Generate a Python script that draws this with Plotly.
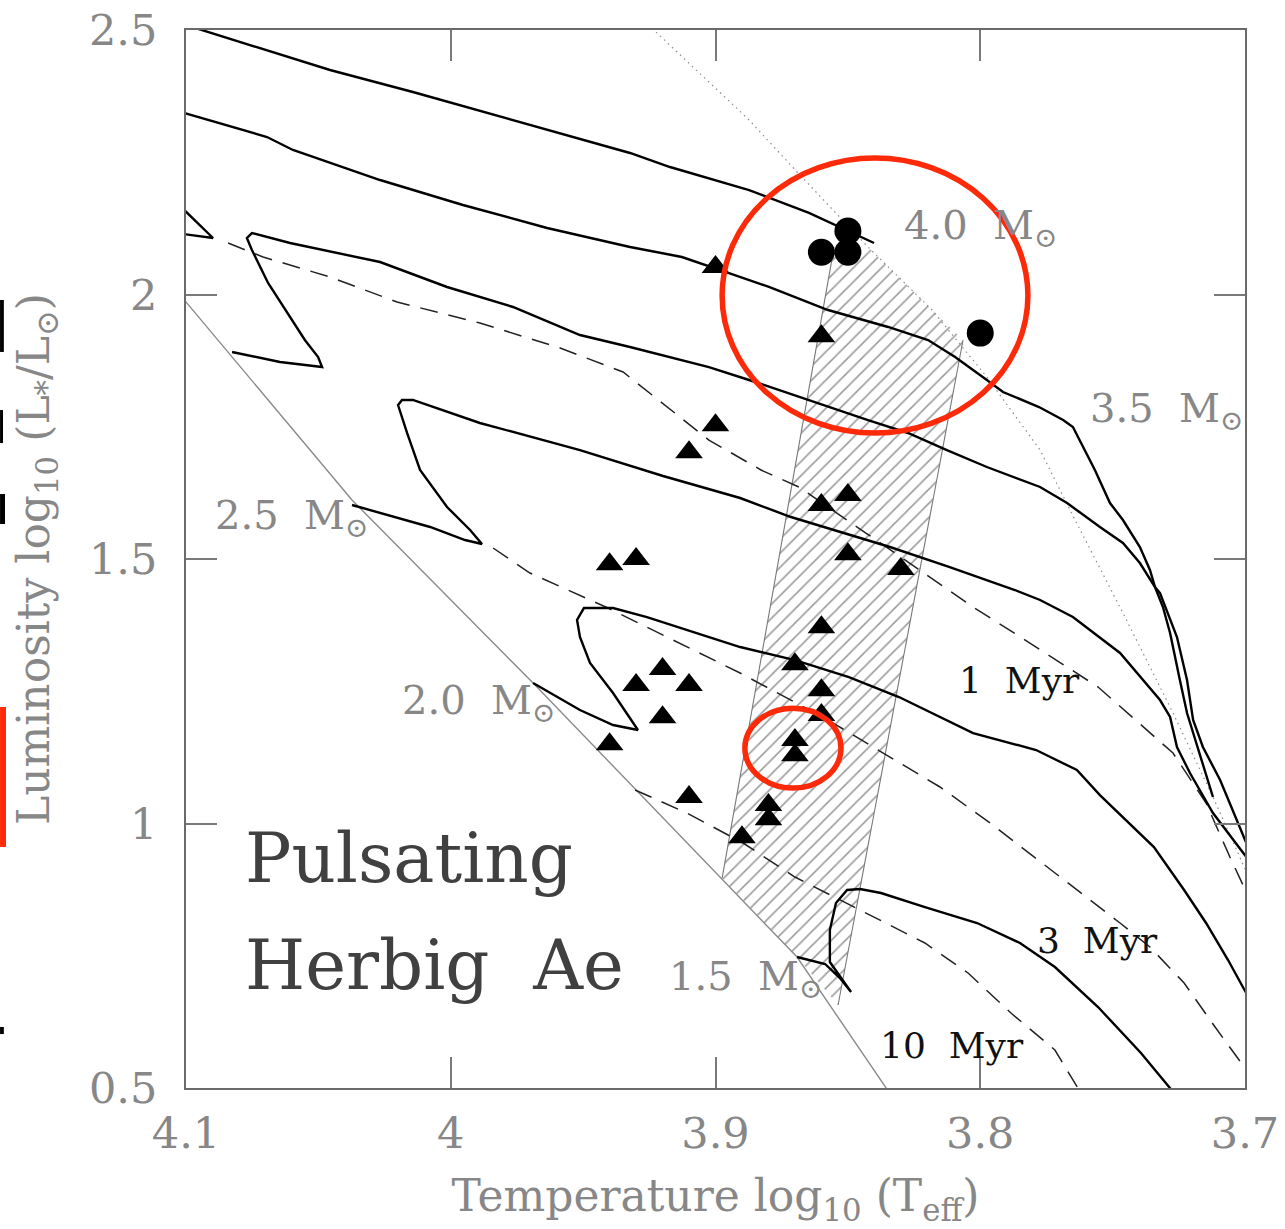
import plotly.graph_objects as go

# ---------------- PMS evolutionary tracks: log10(Teff), log10(L/Lsun) ----------------
trk40_t = [4.1098, 4.0456, 4.0143, 3.9765, 3.9323, 3.9172, 3.8873, 3.8647, 3.8401]
trk40_l = [2.5246, 2.4244, 2.3828, 2.3299, 2.2675, 2.2410, 2.1975, 2.1541, 2.0973]

trk35_t = [4.1098, 4.0694, 4.0596, 4.0267, 3.9954, 3.9636, 3.9323, 3.9127, 3.8949, 3.8798,
           3.8575, 3.8348, 3.8197, 3.8095, 3.7975, 3.7914, 3.7778, 3.7687, 3.7650, 3.7612,
           3.7567, 3.7510, 3.7461, 3.7397, 3.7359, 3.7340, 3.7321, 3.7257, 3.7219, 3.7196,
           3.7159, 3.7094, 3.6981]
trk35_l = [2.3563, 2.2977, 2.2732, 2.2164, 2.1692, 2.1257, 2.0898, 2.0709, 2.0406, 2.0142,
           1.9707, 1.9386, 1.9140, 1.8818, 1.8384, 1.8157, 1.7873, 1.7627, 1.7495, 1.7117,
           1.6682, 1.6058, 1.5737, 1.5227, 1.4792, 1.4470, 1.4357, 1.3525, 1.2712, 1.1956,
           1.1446, 1.0822, 0.9461]

trk30_t = [3.7121, 3.7181, 3.7219, 3.7246, 3.7283, 3.7310, 3.7340, 3.7397, 3.7461, 3.7548,
           3.7672, 3.7774, 3.7975, 3.8126, 3.8273, 3.8424, 3.8647, 3.8873, 3.9025, 3.9172,
           3.9323, 3.9512, 3.9765, 4.0014, 4.0267, 4.0607, 4.0751, 4.0770, 4.0751, 4.0690,
           4.0551, 4.0501, 4.0486, 4.0645, 4.0826]
trk30_l = [1.0501, 1.1446, 1.2089, 1.2712, 1.3601, 1.4092, 1.4470, 1.4924, 1.5302, 1.5605,
           1.6058, 1.6361, 1.6739, 1.7060, 1.7382, 1.7627, 1.8006, 1.8384, 1.8629, 1.8818,
           1.9007, 1.9234, 1.9764, 2.0142, 2.0614, 2.0973, 2.1162, 2.1068, 2.0841, 2.0217,
           1.9140, 1.8818, 1.8629, 1.8724, 1.8913]

hook_t = [4.1038, 4.0898, 4.1038]
hook_l = [2.1749, 2.1068, 2.1162]

trk25_t = [3.6981, 3.7121, 3.7208, 3.7257, 3.7283, 3.7321, 3.7472, 3.7650, 3.7774, 3.7869,
           3.8118, 3.8341, 3.8715, 3.8907, 3.9198, 3.9512, 3.9890, 4.0143, 4.0184, 4.0199,
           4.0165, 4.0116, 4.0014, 3.9927, 3.9882, 3.9946, 4.0078, 4.0373]
trk25_l = [0.9272, 1.0198, 1.0954, 1.1446, 1.2013, 1.2334, 1.3223, 1.3903, 1.4225, 1.4414,
           1.4849, 1.5227, 1.5794, 1.6153, 1.6569, 1.7060, 1.7571, 1.8006, 1.8006, 1.7911,
           1.7382, 1.6682, 1.5983, 1.5548, 1.5283, 1.5359, 1.5605, 1.6021]

trk20_t = [3.6981, 3.7064, 3.7147, 3.7230, 3.7344, 3.7476, 3.7548, 3.7635, 3.7789, 3.8027,
           3.8307, 3.8496, 3.8700, 3.8907, 3.9134, 3.9259, 3.9387, 3.9497, 3.9523, 3.9512,
           3.9474, 3.9387, 3.9293, 3.9387, 3.9512, 3.9689]
trk20_l = [0.6663, 0.7419, 0.8119, 0.8743, 0.9555, 1.0198, 1.0538, 1.1011, 1.1389, 1.1710,
           1.2391, 1.2769, 1.3090, 1.3336, 1.3695, 1.3903, 1.4073, 1.4073, 1.3847, 1.3525,
           1.3034, 1.2467, 1.1767, 1.1862, 1.2145, 1.2656]

trk15_t = [3.7246, 3.7393, 3.7555, 3.7718, 3.7850, 3.8012, 3.8209, 3.8375, 3.8454, 3.8503,
           3.8545, 3.8568, 3.8568, 3.8488, 3.8530, 3.8586, 3.8692]
trk15_l = [0.4773, 0.5661, 0.6531, 0.7287, 0.7741, 0.8119, 0.8421, 0.8686, 0.8761, 0.8743,
           0.8497, 0.7986, 0.7381, 0.6814, 0.7079, 0.7344, 0.7476]

# ---------------- isochrones (1, 3, 10 Myr) ----------------
iso1_t = [4.0841, 4.0709, 4.0456, 4.0203, 3.9890, 3.9587, 3.9349, 3.9025, 3.8828, 3.8685,
          3.8432, 3.8246, 3.8027, 3.7789, 3.7555, 3.7272, 3.7147, 3.7057, 3.6981]
iso1_l = [2.0973, 2.0709, 2.0331, 1.9858, 1.9461, 1.8989, 1.8535, 1.7249, 1.6682, 1.6361,
          1.5491, 1.4849, 1.4092, 1.3336, 1.2580, 1.1332, 1.0387, 0.9366, 0.8554]

iso3_t = [3.9840, 3.9701, 3.9406, 3.9134, 3.8907, 3.8575, 3.8341, 3.8152, 3.7963, 3.7718,
          3.7472, 3.7359, 3.7230, 3.7113, 3.6981]
iso3_l = [1.5208, 1.4735, 1.4073, 1.3412, 1.2845, 1.1956, 1.1257, 1.0690, 1.0009, 0.9064,
          0.8119, 0.7665, 0.6985, 0.6153, 0.5245]

iso10_t = [3.9304, 3.9108, 3.8896, 3.8700, 3.8454, 3.8209, 3.8046, 3.7884, 3.7718, 3.7604]
iso10_l = [1.0633, 1.0198, 0.9631, 0.8988, 0.8364, 0.7741, 0.7174, 0.6417, 0.5718, 0.4773]

# ---------------- ZAMS and birthline ----------------
zams_t = [4.1060, 4.0373, 3.9689, 3.8692, 3.8322]
zams_l = [2.0217, 1.6115, 1.2656, 0.7476, 0.4754]

birth_t = [3.9285, 3.8873, 3.8692, 3.8424, 3.8182, 3.7975, 3.7774, 3.7661, 3.7461, 3.7272,
           3.7121, 3.6981]
birth_l = [2.5246, 2.3299, 2.2316, 2.0898, 1.9707, 1.8440, 1.7060, 1.5926, 1.3979, 1.2089,
           1.0501, 0.8932]

# ---------------- instability strip (hatched) ----------------
strip_t = [3.8975, 3.8552, 3.8424, 3.8065, 3.8537, 3.8692, 3.8975]
strip_l = [0.8969, 2.0898, 2.0898, 1.9140, 0.6569, 0.7476, 0.8969]

# ---------------- stars ----------------
tri_t = [3.900, 3.860, 3.900, 3.910, 3.860, 3.850, 3.850, 3.830, 3.940, 3.930,
         3.860, 3.870, 3.860, 3.860, 3.870, 3.870, 3.920, 3.930, 3.910, 3.920,
         3.940, 3.910, 3.880, 3.880, 3.890]
tri_l = [2.052, 1.921, 1.753, 1.702, 1.602, 1.621, 1.509, 1.481, 1.490, 1.500,
         1.371, 1.301, 1.252, 1.205, 1.158, 1.129, 1.292, 1.262, 1.262, 1.201,
         1.150, 1.050, 1.035, 1.008, 0.974]

circ_t = [3.850, 3.860, 3.850, 3.800]
circ_l = [2.120, 2.080, 2.080, 1.927]

# highlighted groups (ellipse bounds: logT0, logT1, logL0, logL1)
ring_big = [3.8975, 3.7820, 1.738, 2.258]
ring_small = [3.8889, 3.8526, 1.067, 1.218]

# labels
mass_labels = ["4.0\u00a0 M<sub>\u2299</sub>", "3.5\u00a0 M<sub>\u2299</sub>",
               "2.5\u00a0 M<sub>\u2299</sub>", "2.0\u00a0 M<sub>\u2299</sub>",
               "1.5\u00a0 M<sub>\u2299</sub>"]
mass_label_t = [3.8296, 3.7593, 4.0898, 4.0192, 3.9183]
mass_label_l = [2.125, 1.779, 1.577, 1.227, 0.707]

age_labels = ["1\u00a0 Myr", "3\u00a0 Myr", "10\u00a0 Myr"]
age_label_t = [3.8088, 3.7793, 3.8386]
age_label_l = [1.2712, 0.7797, 0.5812]

SERIF = "DejaVu Serif"
GREY_TXT = "#878787"

fig = go.Figure()

# hatched instability strip
fig.add_trace(go.Scatter(
    x=strip_t, y=strip_l, mode="lines", fill="toself",
    fillcolor="rgba(0,0,0,0)",
    fillpattern=dict(shape="/", fgcolor="#3a3a3a", bgcolor="rgba(0,0,0,0)",
                     size=10, solidity=0.16),
    line=dict(width=0), hoverinfo="skip"))
# strip side boundaries
fig.add_trace(go.Scatter(x=strip_t[0:2], y=strip_l[0:2], mode="lines",
                         line=dict(color="#777777", width=1.1), hoverinfo="skip"))
fig.add_trace(go.Scatter(x=strip_t[3:5], y=strip_l[3:5], mode="lines",
                         line=dict(color="#777777", width=1.1), hoverinfo="skip"))

# ZAMS
fig.add_trace(go.Scatter(x=zams_t, y=zams_l, mode="lines",
                         line=dict(color="#8a8a8a", width=1.4), hoverinfo="skip"))
# birthline (dotted)
fig.add_trace(go.Scatter(x=birth_t, y=birth_l, mode="lines",
                         line=dict(color="#8c8c8c", width=1.2, dash="1.5px,4px"),
                         hoverinfo="skip"))

# isochrones
for it, il in [(iso1_t, iso1_l), (iso3_t, iso3_l), (iso10_t, iso10_l)]:
    fig.add_trace(go.Scatter(x=it, y=il, mode="lines",
                             line=dict(color="#222222", width=1.5, dash="18px,11px"),
                             hoverinfo="skip"))

# evolutionary tracks
for tt, tl in [(trk40_t, trk40_l), (trk35_t, trk35_l), (trk30_t, trk30_l),
               (hook_t, hook_l), (trk25_t, trk25_l), (trk20_t, trk20_l),
               (trk15_t, trk15_l)]:
    fig.add_trace(go.Scatter(x=tt, y=tl, mode="lines",
                             line=dict(color="#000000", width=2.4), hoverinfo="skip"))

# stars
fig.add_trace(go.Scatter(x=tri_t, y=tri_l, mode="markers",
                         marker=dict(symbol="triangle-up", size=24, color="#000000",
                                     line=dict(width=0)), hoverinfo="skip"))
fig.add_trace(go.Scatter(x=circ_t, y=circ_l, mode="markers",
                         marker=dict(symbol="circle", size=27, color="#000000",
                                     line=dict(width=0)), hoverinfo="skip"))

# red highlight rings
for r in (ring_big, ring_small):
    fig.add_shape(type="circle", xref="x", yref="y",
                  x0=r[0], x1=r[1], y0=r[2], y1=r[3],
                  line=dict(color="#fd2a0a", width=5.5), layer="above")

annotations = []
for txt, xt, yl in zip(mass_labels, mass_label_t, mass_label_l):
    annotations.append(dict(x=xt, y=yl, xref="x", yref="y", text=txt, showarrow=False,
                            xanchor="left", yanchor="middle",
                            font=dict(family=SERIF, size=40, color=GREY_TXT)))
for txt, xt, yl in zip(age_labels, age_label_t, age_label_l):
    annotations.append(dict(x=xt, y=yl, xref="x", yref="y", text=txt, showarrow=False,
                            xanchor="left", yanchor="middle",
                            font=dict(family=SERIF, size=36, color="#111111")))
annotations.append(dict(x=4.0785, y=0.935, xref="x", yref="y", text="Pulsating",
                        showarrow=False, xanchor="left", yanchor="middle",
                        font=dict(family=SERIF, size=69, color="#404040")))
annotations.append(dict(x=4.0785, y=0.733, xref="x", yref="y",
                        text="Herbig\u00a0 Ae", showarrow=False,
                        xanchor="left", yanchor="middle",
                        font=dict(family=SERIF, size=69, color="#404040")))

# slivers of neighbouring artwork along the left edge
edge_bits = [((-0.1756, -0.1720), (0.6957, 0.7448), "#000000"),
             ((-0.1756, -0.1728), (0.6096, 0.6408), "#000000"),
             ((-0.1756, -0.1709), (0.5331, 0.5614), "#000000"),
             ((-0.1756, -0.1700), (0.2278, 0.3601), "#fd2a0a"),
             ((-0.1756, -0.1720), (0.0510, 0.0577), "#000000")]
for (bx, by, bc) in edge_bits:
    fig.add_shape(type="rect", xref="paper", yref="paper",
                  x0=bx[0], x1=bx[1], y0=by[0], y1=by[1],
                  fillcolor=bc, line=dict(width=0), layer="above")

axis_common = dict(
    showgrid=False, zeroline=False, showline=True, linecolor="#6a6a6a", linewidth=2,
    mirror="ticks", ticks="inside", ticklen=31, tickwidth=1.5, tickcolor="#7a7a7a",
    tickfont=dict(family=SERIF, size=43, color=GREY_TXT), automargin=False,
)

fig.update_layout(
    width=1285, height=1229,
    margin=dict(l=186, r=40, t=30, b=141),
    paper_bgcolor="white", plot_bgcolor="white",
    showlegend=False,
    annotations=annotations,
    xaxis=dict(range=[4.1, 3.7], tickvals=[4.1, 4.0, 3.9, 3.8, 3.7],
               ticktext=["4.1", "4", "3.9", "3.8", "3.7"],
               ticklabelstandoff=6,
               title=dict(text="Temperature log<sub>10</sub> (T<sub>eff</sub>)",
                          font=dict(family=SERIF, size=44, color=GREY_TXT),
                          standoff=24),
               **axis_common),
    yaxis=dict(range=[0.5, 2.5], tickvals=[0.5, 1.0, 1.5, 2.0, 2.5],
               ticktext=["0.5", "1", "1.5", "2", "2.5"],
               ticklabelstandoff=18,
               title=dict(text="Luminosity log<sub>10</sub> (L<sub>*</sub>/L<sub>\u2299</sub>)",
                          font=dict(family=SERIF, size=44, color=GREY_TXT),
                          standoff=26),
               **axis_common),
)

fig.write_html("out.html")
